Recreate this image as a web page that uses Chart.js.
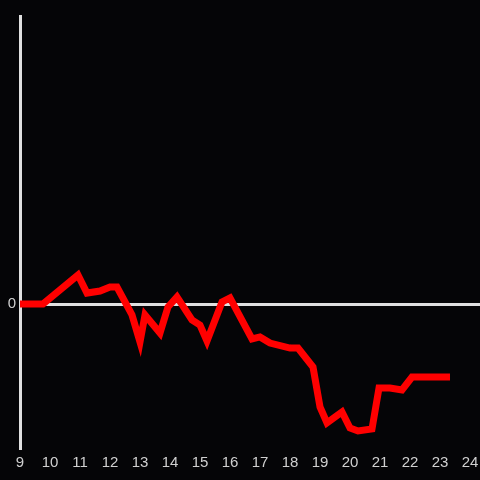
<!DOCTYPE html>
<html>
<head>
<meta charset="utf-8">
<script src="https://cdn.jsdelivr.net/npm/chart.js@4/dist/chart.umd.min.js"></script>
<style>
html,body{margin:0;padding:0;background:#050507;}
canvas{display:block;}
</style>
</head>
<body>
<canvas id="c" width="480" height="480"></canvas>
<script>
// Time of day (hours) and value
const hours = [9.0, 9.767, 10.933, 11.233, 11.667, 12.0, 12.233, 12.733, 13.0, 13.167, 13.667, 13.933, 14.233, 14.733, 15.0, 15.233, 15.733, 16.0, 16.733, 17.0, 17.333, 18.0, 18.267, 18.767, 19.0, 19.233, 19.733, 20.0, 20.267, 20.733, 20.967, 21.333, 21.733, 22.067, 23.333];
const values = [0, 0, 0.201, 0.076, 0.090, 0.118, 0.118, -0.076, -0.264, -0.076, -0.201, -0.021, 0.049, -0.111, -0.146, -0.257, 0.014, 0.042, -0.243, -0.229, -0.271, -0.306, -0.306, -0.438, -0.715, -0.826, -0.750, -0.861, -0.882, -0.868, -0.583, -0.583, -0.597, -0.507, -0.507];
const xTickLabels = [9, 10, 11, 12, 13, 14, 15, 16, 17, 18, 19, 20, 21, 22, 23, 24];
const yTickLabels = [0];

const bg = {
  id: 'bg',
  beforeDraw(chart) {
    const ctx = chart.ctx;
    ctx.save();
    ctx.fillStyle = '#050507';
    ctx.fillRect(0, 0, chart.width, chart.height);
    ctx.restore();
  }
};

new Chart(document.getElementById('c'), {
  type: 'line',
  data: {
    datasets: [{
      data: hours.map((h, i) => ({x: h, y: values[i]})),
      borderColor: '#ff0000',
      borderWidth: 7,
      pointRadius: 0,
      tension: 0,
      fill: false
    }]
  },
  options: {
    responsive: false,
    animation: false,
    devicePixelRatio: 1,
    layout: { padding: { top: 16, right: 0, left: 0, bottom: 0 } },
    plugins: { legend: { display: false }, tooltip: { enabled: false } },
    scales: {
      x: {
        type: 'linear',
        min: 9,
        max: 24 + 1/3,
        afterBuildTicks: s => { s.ticks = xTickLabels.map(v => ({value: v})); },
        afterFit: s => { s.height = 32; s.paddingRight = 0; s.paddingLeft = 0; },
        grid: { display: false, drawTicks: false },
        border: { display: false },
        ticks: { color: '#d0d0d0', font: { size: 15, family: 'Liberation Sans' }, padding: 6, maxRotation: 0, autoSkip: false }
      },
      y: {
        min: -1,
        max: 2,
        afterBuildTicks: s => { s.ticks = yTickLabels.map(v => ({value: v})); },
        afterFit: s => { s.width = 20; s.paddingTop = 0; s.paddingBottom = 0; },
        grid: {
          drawTicks: false,
          color: '#e0e0e0',
          lineWidth: 3
        },
        border: { display: true, color: '#e0e0e0', width: 3 },
        ticks: { color: '#d0d0d0', font: { size: 15, family: 'Liberation Sans' }, padding: 4 }
      }
    }
  },
  plugins: [bg]
});
</script>
</body>
</html>
